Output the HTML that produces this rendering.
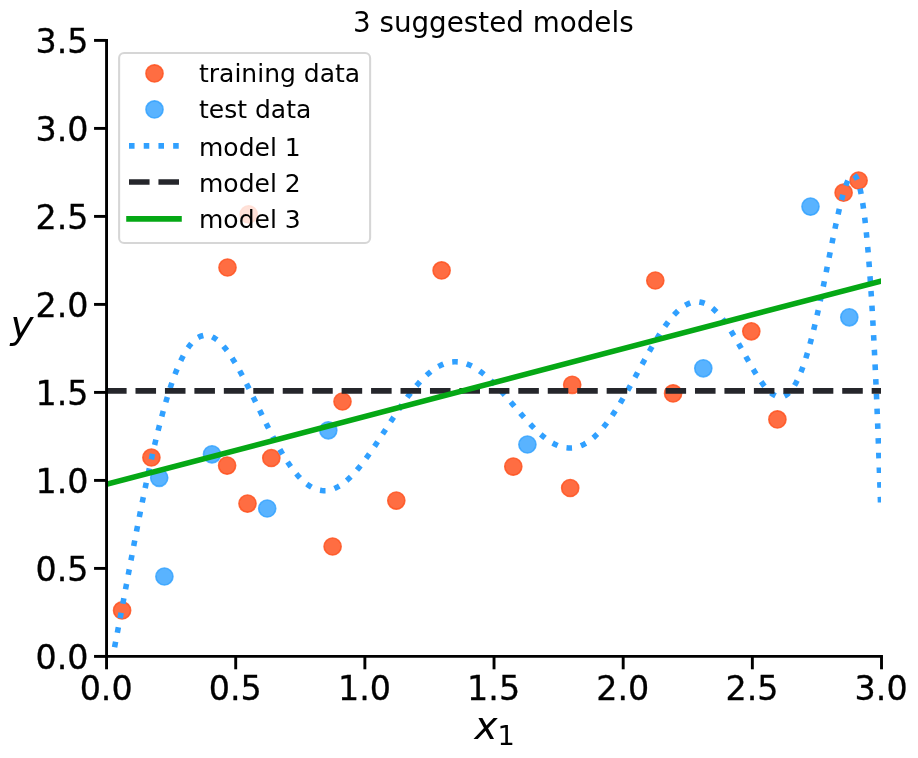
<!DOCTYPE html><html><head><meta charset="utf-8"><title>3 suggested models</title><style>html,body{margin:0;padding:0;background:#fff;overflow:hidden}svg{display:block;will-change:transform}</style></head><body><svg width="918" height="758" viewBox="0 0 918 758">
<defs><clipPath id="ax"><rect x="107" y="40" width="774" height="616"/></clipPath></defs>
<rect width="918" height="758" fill="#fff"/>
<g clip-path="url(#ax)">
<g fill="rgb(255,84,33)" fill-opacity="0.85" stroke="rgb(255,84,33)" stroke-opacity="0.85" stroke-width="1.6"><circle cx="122.10" cy="610.40" r="8.55"/><circle cx="151.40" cy="457.50" r="8.55"/><circle cx="227.50" cy="267.50" r="8.55"/><circle cx="227.10" cy="465.60" r="8.55"/><circle cx="247.50" cy="503.60" r="8.55"/><circle cx="248.70" cy="214.30" r="8.55"/><circle cx="271.30" cy="458.00" r="8.55"/><circle cx="332.60" cy="546.50" r="8.55"/><circle cx="342.50" cy="401.50" r="8.55"/><circle cx="396.30" cy="500.60" r="8.55"/><circle cx="441.60" cy="270.40" r="8.55"/><circle cx="513.30" cy="466.60" r="8.55"/><circle cx="570.20" cy="488.00" r="8.55"/><circle cx="572.20" cy="384.80" r="8.55"/><circle cx="655.30" cy="280.50" r="8.55"/><circle cx="673.10" cy="393.40" r="8.55"/><circle cx="751.30" cy="331.30" r="8.55"/><circle cx="777.40" cy="419.40" r="8.55"/><circle cx="843.60" cy="192.70" r="8.55"/><circle cx="858.60" cy="180.50" r="8.55"/></g>
<g fill="rgb(48,160,255)" fill-opacity="0.8" stroke="rgb(48,160,255)" stroke-opacity="0.8" stroke-width="1.6"><circle cx="159.20" cy="477.80" r="8.55"/><circle cx="164.40" cy="576.50" r="8.55"/><circle cx="212.00" cy="454.30" r="8.55"/><circle cx="267.20" cy="508.50" r="8.55"/><circle cx="328.30" cy="430.30" r="8.55"/><circle cx="527.40" cy="444.50" r="8.55"/><circle cx="703.30" cy="368.30" r="8.55"/><circle cx="810.50" cy="206.60" r="8.55"/><circle cx="849.30" cy="317.30" r="8.55"/></g>
<path d="M106.55 687.48 106.72 686.67 106.88 685.87 107.05 685.06M108.87 676.07 109.24 674.26 109.60 672.44 109.97 670.63M111.75 661.63 112.11 659.82 112.46 658.00 112.82 656.18M114.57 647.18 114.92 645.36 115.27 643.54 115.62 641.73M117.34 632.72 117.69 630.90 118.03 629.08 118.38 627.26M120.08 618.26 120.43 616.44 120.77 614.62 121.11 612.80M122.81 603.79 123.15 601.97 123.49 600.15 123.83 598.33M125.52 589.32 125.86 587.50 126.20 585.68 126.55 583.86M128.24 574.84 128.58 573.02 128.92 571.20 129.26 569.38M130.96 560.38 131.31 558.56 131.65 556.74 132.00 554.92M133.71 545.91 134.06 544.09 134.40 542.27 134.75 540.45M136.49 531.45 136.84 529.63 137.19 527.82 137.55 526.00M139.31 517.00 139.67 515.19 140.03 513.37 140.39 511.55M142.19 502.56 142.56 500.75 142.93 498.93 143.30 497.12M145.14 488.14 145.52 486.33 145.90 484.51 146.28 482.70M148.18 473.73 148.57 471.92 148.97 470.11 149.36 468.30M151.34 459.35 151.74 457.54 152.15 455.74 152.56 453.93M154.63 445.00 155.05 443.20 155.48 441.40 155.91 439.60M158.09 430.69 158.54 428.89 159.00 427.10 159.46 425.30M161.78 416.44 162.26 414.65 162.75 412.86 163.24 411.08M165.75 402.26 166.28 400.48 166.81 398.71 167.34 396.94M170.11 388.20 170.69 386.44 171.28 384.68 171.88 382.93M175.01 374.31 175.68 372.59 176.36 370.86 177.06 369.15M180.75 360.76 181.55 359.09 182.38 357.43 183.24 355.79M187.93 347.92 189.00 346.41 190.11 344.93 191.29 343.50M198.14 337.47 199.78 336.61 201.50 335.94 203.30 335.49M212.21 336.89 213.84 337.75 215.41 338.75 216.90 339.84M223.46 346.22 224.65 347.64 225.81 349.08 226.94 350.55M232.16 358.09 233.15 359.65 234.12 361.23 235.09 362.81M239.66 370.76 240.55 372.38 241.44 374.01 242.31 375.64M246.55 383.77 247.39 385.42 248.22 387.07 249.06 388.73M253.13 396.94 253.94 398.60 254.76 400.27 255.57 401.93M259.59 410.17 260.40 411.83 261.22 413.50 262.03 415.16M266.09 423.38 266.92 425.03 267.75 426.69 268.59 428.34M272.79 436.49 273.65 438.13 274.53 439.76 275.40 441.39M279.86 449.40 280.79 451.00 281.73 452.60 282.68 454.19M287.57 461.95 288.60 463.48 289.65 465.01 290.72 466.52M296.31 473.78 297.52 475.19 298.75 476.57 300.01 477.92M306.81 484.06 308.31 485.15 309.85 486.17 311.44 487.12M320.00 490.30 321.83 490.57 323.68 490.69 325.53 490.66M334.40 488.54 336.09 487.78 337.73 486.93 339.34 486.00M346.69 480.55 348.08 479.32 349.43 478.05 350.76 476.76M356.97 470.03 358.17 468.61 359.35 467.18 360.51 465.74M366.07 458.46 367.16 456.96 368.24 455.46 369.32 453.95M374.52 446.40 375.55 444.86 376.58 443.32 377.60 441.77M382.62 434.11 383.63 432.55 384.64 431.00 385.65 429.44M390.64 421.75 391.65 420.20 392.66 418.65 393.68 417.10M398.77 409.48 399.81 407.95 400.86 406.42 401.91 404.90M407.24 397.44 408.34 395.95 409.46 394.47 410.58 393.00M416.34 385.87 417.55 384.47 418.78 383.08 420.02 381.71M426.50 375.23 427.88 373.99 429.29 372.79 430.73 371.62M438.32 366.51 439.96 365.64 441.63 364.85 443.34 364.13M452.21 361.94 454.06 361.81 455.91 361.80 457.76 361.89M466.68 363.88 468.41 364.55 470.11 365.30 471.77 366.11M479.57 370.91 481.06 372.01 482.53 373.14 483.97 374.30M490.81 380.40 492.14 381.69 493.46 382.99 494.76 384.31M501.04 390.99 502.28 392.37 503.51 393.75 504.74 395.13M510.75 402.05 511.95 403.46 513.16 404.87 514.36 406.27M520.35 413.22 521.56 414.62 522.79 416.01 524.01 417.39M530.20 424.16 531.48 425.49 532.77 426.82 534.08 428.14M540.77 434.40 542.18 435.60 543.61 436.78 545.06 437.92M552.67 443.03 554.30 443.91 555.96 444.73 557.65 445.47M566.48 447.84 568.33 448.00 570.18 448.03 572.03 447.94M580.89 445.76 582.59 445.01 584.24 444.17 585.85 443.26M593.24 437.85 594.62 436.62 595.97 435.35 597.29 434.06M603.43 427.25 604.60 425.81 605.75 424.36 606.88 422.90M612.24 415.46 613.28 413.93 614.31 412.39 615.33 410.84M620.21 403.08 621.17 401.50 622.13 399.91 623.07 398.32M627.67 390.39 628.59 388.78 629.50 387.17 630.40 385.55M634.94 377.39 635.83 375.77 636.72 374.14 637.62 372.52M642.13 364.31 643.02 362.69 643.92 361.07 644.81 359.45M649.33 351.41 650.25 349.80 651.18 348.20 652.10 346.60M656.82 338.71 657.79 337.13 658.78 335.56 659.77 334.00M664.89 326.36 665.97 324.86 667.06 323.36 668.18 321.88M674.04 314.81 675.31 313.46 676.61 312.14 677.95 310.86M685.23 305.28 686.85 304.38 688.52 303.58 690.25 302.91M699.31 301.94 701.13 302.27 702.91 302.76 704.65 303.41M712.43 308.24 713.84 309.44 715.20 310.69 716.52 312.00M722.54 318.93 723.67 320.40 724.78 321.89 725.86 323.39M730.97 331.03 731.96 332.60 732.94 334.17 733.90 335.75M738.57 343.67 739.50 345.28 740.41 346.88 741.33 348.49M745.84 356.50 746.75 358.12 747.67 359.73 748.58 361.34M753.20 369.29 754.15 370.88 755.11 372.47 756.08 374.04M761.16 381.73 762.24 383.23 763.35 384.71 764.50 386.17M770.86 392.81 772.32 393.94 773.88 394.95 775.52 395.80M784.44 395.94 786.07 395.06 787.57 393.98 788.95 392.75M794.51 385.43 795.44 383.83 796.32 382.20 797.16 380.55M800.89 372.13 801.57 370.41 802.23 368.68 802.87 366.94M805.82 358.22 806.38 356.45 806.92 354.68 807.46 352.91M809.98 344.06 810.47 342.28 810.95 340.49 811.42 338.70M813.67 329.79 814.11 328.00 814.55 326.20 814.98 324.39M817.05 315.45 817.46 313.64 817.86 311.84 818.26 310.03M820.22 301.06 820.60 299.24 820.99 297.43 821.37 295.62M823.24 286.63 823.61 284.82 823.98 283.00 824.35 281.19M826.17 272.19 826.54 270.37 826.90 268.56 827.26 266.74M829.06 257.74 829.43 255.92 829.79 254.10 830.15 252.29M831.97 243.26 832.34 241.45 832.71 239.63 833.08 237.82M834.95 228.79 835.33 226.98 835.71 225.17 836.10 223.36M838.08 214.36 838.49 212.55 838.91 210.75 839.33 208.94M841.54 199.99 842.01 198.20 842.49 196.42 842.99 194.63M845.80 185.66 846.44 183.92 847.12 182.20 847.87 180.51M854.31 175.07 855.60 176.39 856.55 177.98 857.32 179.66M859.98 188.57 860.39 190.38 860.77 192.19 861.13 194.00M862.69 203.04 862.97 204.87 863.24 206.70 863.50 208.53M864.68 217.63 864.90 219.46 865.11 221.30 865.32 223.14M866.30 232.26 866.48 234.10 866.66 235.95 866.84 237.79M867.68 246.92 867.84 248.76 868.00 250.61 868.16 252.45M868.90 261.59 869.05 263.44 869.19 265.28 869.33 267.13M870.00 276.27 870.13 278.12 870.26 279.97 870.39 281.82M871.00 290.96 871.12 292.81 871.24 294.66 871.36 296.51M871.93 305.66 872.04 307.50 872.15 309.35 872.26 311.20M872.79 320.35 872.89 322.20 873.00 324.05 873.10 325.90M873.59 335.06 873.69 336.91 873.79 338.75 873.89 340.60M874.35 349.76 874.45 351.61 874.54 353.46 874.63 355.31M875.07 364.47 875.16 366.32 875.25 368.17 875.33 370.02M875.76 379.17 875.84 381.02 875.92 382.87 876.01 384.72M876.41 393.88 876.49 395.73 876.57 397.58 876.65 399.43M877.03 408.59 877.11 410.44 877.18 412.29 877.26 414.14M877.63 423.30 877.70 425.15 877.77 427.00 877.85 428.85M878.20 438.02 878.27 439.87 878.34 441.72 878.41 443.57M878.75 452.73 878.82 454.58 878.89 456.43 878.96 458.28M879.29 467.44 879.35 469.29 879.42 471.14 879.49 472.99M879.80 482.16 879.87 484.01 879.93 485.86 879.99 487.71M880.30 496.87 880.37 498.72 880.43 500.57 880.49 502.42" fill="none" stroke="#30a0ff" stroke-width="5.556"/>
<path d="M106.55 390.90 L881.51 390.90" stroke="#25262b" stroke-width="5.556" stroke-dasharray="20.557 8.890" stroke-dashoffset="0.5" fill="none"/>
<path d="M106.55 484.33 L881.51 280.87" stroke="#05a815" stroke-width="5.556" stroke-linecap="square" fill="none"/>
</g>
<g stroke="#000" stroke-width="2.9" fill="none">
<path d="M106.55 40.40 L106.55 656.40" stroke-linecap="square"/>
<path d="M106.55 656.40 L881.51 656.40" stroke-linecap="square"/>
<path d="M94.05 656.40 L106.55 656.40"/>
<path d="M94.05 568.40 L106.55 568.40"/>
<path d="M94.05 480.40 L106.55 480.40"/>
<path d="M94.05 392.40 L106.55 392.40"/>
<path d="M94.05 304.40 L106.55 304.40"/>
<path d="M94.05 216.40 L106.55 216.40"/>
<path d="M94.05 128.40 L106.55 128.40"/>
<path d="M94.05 40.40 L106.55 40.40"/>
<path d="M106.55 656.40 L106.55 669.30"/>
<path d="M235.71 656.40 L235.71 669.30"/>
<path d="M364.87 656.40 L364.87 669.30"/>
<path d="M494.03 656.40 L494.03 669.30"/>
<path d="M623.19 656.40 L623.19 669.30"/>
<path d="M752.35 656.40 L752.35 669.30"/>
<path d="M881.51 656.40 L881.51 669.30"/>
</g>
<g font-family="'DejaVu Sans', sans-serif" font-size="33.33" fill="#000" stroke="#000" stroke-width="0.3">
<text x="88.5" y="668.60" text-anchor="end">0.0</text>
<text x="88.5" y="580.60" text-anchor="end">0.5</text>
<text x="88.5" y="492.60" text-anchor="end">1.0</text>
<text x="88.5" y="404.60" text-anchor="end">1.5</text>
<text x="88.5" y="316.60" text-anchor="end">2.0</text>
<text x="88.5" y="228.60" text-anchor="end">2.5</text>
<text x="88.5" y="140.60" text-anchor="end">3.0</text>
<text x="88.5" y="52.60" text-anchor="end">3.5</text>
<text x="106.15" y="699.5" text-anchor="middle">0.0</text>
<text x="235.31" y="699.5" text-anchor="middle">0.5</text>
<text x="364.47" y="699.5" text-anchor="middle">1.0</text>
<text x="493.63" y="699.5" text-anchor="middle">1.5</text>
<text x="622.79" y="699.5" text-anchor="middle">2.0</text>
<text x="751.95" y="699.5" text-anchor="middle">2.5</text>
<text x="881.11" y="699.5" text-anchor="middle">3.0</text>
</g>
<text x="474.5" y="739" font-family="'DejaVu Sans', sans-serif" font-size="38.89" font-style="italic">x</text>
<text x="497.5" y="745" font-family="'DejaVu Sans', sans-serif" font-size="27.22">1</text>
<text x="10.5" y="338" font-family="'DejaVu Sans', sans-serif" font-size="38.89" font-style="italic">y</text>
<text x="493.3" y="32.3" font-family="'DejaVu Sans', sans-serif" font-size="27.78" text-anchor="middle">3 suggested models</text>
<rect x="119.1" y="53.0" width="251" height="190" rx="5" ry="5" fill="#fff" fill-opacity="0.8" stroke="#cccccc" stroke-opacity="0.8" stroke-width="2.08"/>
<circle cx="154.5" cy="73.4" r="8.55" fill="rgb(255,84,33)" fill-opacity="0.85" stroke="rgb(255,84,33)" stroke-opacity="0.85" stroke-width="1.6"/>
<circle cx="154.5" cy="109.4" r="8.55" fill="rgb(48,160,255)" fill-opacity="0.8" stroke="rgb(48,160,255)" stroke-opacity="0.8" stroke-width="1.6"/>
<path d="M129.0 145.9 L179.0 145.9" stroke="#30a0ff" stroke-width="5.556" stroke-dasharray="5.556 9.167"/>
<path d="M129.0 182.0 L179.0 182.0" stroke="#25262b" stroke-width="5.556" stroke-dasharray="20.557 8.890"/>
<path d="M129.0 218.9 L179.0 218.9" stroke="#05a815" stroke-width="5.556" stroke-linecap="square"/>
<g font-family="'DejaVu Sans', sans-serif" font-size="25" fill="#000">
<text x="199" y="82.00">training data</text>
<text x="199" y="118.20">test data</text>
<text x="199" y="155.50">model 1</text>
<text x="199" y="191.60">model 2</text>
<text x="199" y="228.40">model 3</text>
</g>
</svg></body></html>
